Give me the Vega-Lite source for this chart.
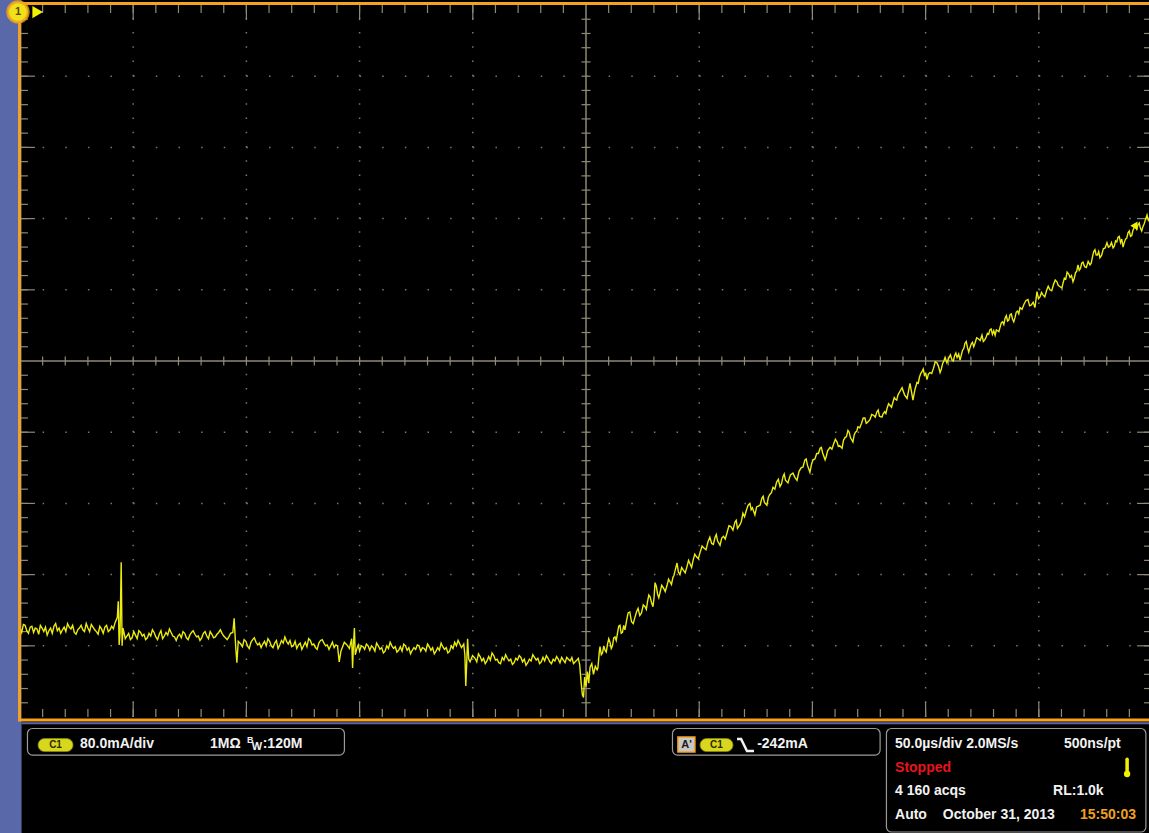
{
  "$schema": "https://vega.github.io/schema/vega-lite/v6.json",
  "width": 1149,
  "height": 833,
  "autosize": {"type": "none"},
  "padding": 0,
  "background": "#000000",
  "config": {"view": {"stroke": null}},
  "data": {"values": [{}]},
  "datasets": {
    "major_t": [{"t": -200}, {"t": -150}, {"t": -100}, {"t": -50}, {"t": 50}, {"t": 100}, {"t": 150}, {"t": 200}],
    "major_i": [{"i": -320}, {"i": -240}, {"i": -160}, {"i": -80}, {"i": 80}, {"i": 160}, {"i": 240}, {"i": 320}],
    "ticks_t": [{"t": -240}, {"t": -230}, {"t": -220}, {"t": -210}, {"t": -200}, {"t": -190}, {"t": -180}, {"t": -170}, {"t": -160}, {"t": -150}, {"t": -140}, {"t": -130}, {"t": -120}, {"t": -110}, {"t": -100}, {"t": -90}, {"t": -80}, {"t": -70}, {"t": -60}, {"t": -50}, {"t": -40}, {"t": -30}, {"t": -20}, {"t": -10}, {"t": 10}, {"t": 20}, {"t": 30}, {"t": 40}, {"t": 50}, {"t": 60}, {"t": 70}, {"t": 80}, {"t": 90}, {"t": 100}, {"t": 110}, {"t": 120}, {"t": 130}, {"t": 140}, {"t": 150}, {"t": 160}, {"t": 170}, {"t": 180}, {"t": 190}, {"t": 200}, {"t": 210}, {"t": 220}, {"t": 230}, {"t": 240}],
    "ticks_i": [{"i": -384}, {"i": -368}, {"i": -352}, {"i": -336}, {"i": -320}, {"i": -304}, {"i": -288}, {"i": -272}, {"i": -256}, {"i": -240}, {"i": -224}, {"i": -208}, {"i": -192}, {"i": -176}, {"i": -160}, {"i": -144}, {"i": -128}, {"i": -112}, {"i": -96}, {"i": -80}, {"i": -64}, {"i": -48}, {"i": -32}, {"i": -16}, {"i": 16}, {"i": 32}, {"i": 48}, {"i": 64}, {"i": 80}, {"i": 96}, {"i": 112}, {"i": 128}, {"i": 144}, {"i": 160}, {"i": 176}, {"i": 192}, {"i": 208}, {"i": 224}, {"i": 240}, {"i": 256}, {"i": 272}, {"i": 288}, {"i": 304}, {"i": 320}, {"i": 336}, {"i": 352}, {"i": 368}, {"i": 384}],
    "edge_symbol": [{"t": 66.7, "i": -424.7}, {"t": 68.5, "i": -424.7}, {"t": 71.1, "i": -438.2}, {"t": 74.2, "i": -438.2}],
    "trace": [
      {"t": -250, "i": -300}, {"t": -248.5, "i": -296}, {"t": -247, "i": -303}, {"t": -245.5, "i": -299}, {"t": -244, "i": -305}, {"t": -242.5, "i": -301}, {"t": -241, "i": -297}, {"t": -239.5, "i": -304}, {"t": -238, "i": -308}, {"t": -236.5, "i": -300}, {"t": -235, "i": -298}, {"t": -233.5, "i": -303}, {"t": -232, "i": -306}, {"t": -230.5, "i": -299}, {"t": -229, "i": -295}, {"t": -227.5, "i": -301}, {"t": -226, "i": -305}, {"t": -224.5, "i": -302}, {"t": -223, "i": -297}, {"t": -221.5, "i": -304}, {"t": -220, "i": -300}, {"t": -218.5, "i": -296}, {"t": -217, "i": -302}, {"t": -215.5, "i": -307}, {"t": -214, "i": -301}, {"t": -212.5, "i": -299}, {"t": -211, "i": -304}, {"t": -209.5, "i": -298}, {"t": -208, "i": -294},
      {"t": -249.25, "i": -305}, {"t": -247.75, "i": -297}, {"t": -246.25, "i": -306}, {"t": -244.75, "i": -298}, {"t": -243.25, "i": -300}, {"t": -241.75, "i": -307}, {"t": -240.25, "i": -300}, {"t": -238.75, "i": -299}, {"t": -237.25, "i": -303}, {"t": -235.75, "i": -306}, {"t": -234.25, "i": -295}, {"t": -232.75, "i": -300}, {"t": -231.25, "i": -302}, {"t": -229.75, "i": -304}, {"t": -228.25, "i": -299}, {"t": -226.75, "i": -297}, {"t": -225.25, "i": -307}, {"t": -223.75, "i": -300}, {"t": -222.25, "i": -302}, {"t": -220.75, "i": -295}, {"t": -219.25, "i": -304}, {"t": -217.75, "i": -299}, {"t": -216.25, "i": -304}, {"t": -214.75, "i": -298}, {"t": -213.25, "i": -306}, {"t": -211.75, "i": -297}, {"t": -210.25, "i": -302}, {"t": -208.75, "i": -301},
      {"t": -207, "i": -288}, {"t": -206.6, "i": -270}, {"t": -206.2, "i": -319}, {"t": -205.8, "i": -305}, {"t": -205.3, "i": -226}, {"t": -204.9, "i": -320}, {"t": -204.5, "i": -300}, {"t": -203.5, "i": -312},
      {"t": -202, "i": -306}, {"t": -200.5, "i": -311}, {"t": -199, "i": -308}, {"t": -197.5, "i": -303}, {"t": -196, "i": -309}, {"t": -194.5, "i": -313}, {"t": -193, "i": -306}, {"t": -191.5, "i": -302}, {"t": -190, "i": -310}, {"t": -188.5, "i": -307}, {"t": -187, "i": -312}, {"t": -185.5, "i": -305}, {"t": -184, "i": -301}, {"t": -182.5, "i": -309}, {"t": -181, "i": -314}, {"t": -179.5, "i": -307}, {"t": -178, "i": -304}, {"t": -176.5, "i": -311}, {"t": -175, "i": -308}, {"t": -173.5, "i": -303}, {"t": -172, "i": -310}, {"t": -170.5, "i": -314}, {"t": -169, "i": -306}, {"t": -167.5, "i": -309}, {"t": -166, "i": -304}, {"t": -164.5, "i": -311}, {"t": -163, "i": -307}, {"t": -161.5, "i": -302}, {"t": -160, "i": -309}, {"t": -158.5, "i": -313}, {"t": -157, "i": -306},
      {"t": -201.25, "i": -313}, {"t": -199.75, "i": -304}, {"t": -198.25, "i": -312}, {"t": -196.75, "i": -305}, {"t": -195.25, "i": -307}, {"t": -193.75, "i": -311}, {"t": -192.25, "i": -309}, {"t": -190.75, "i": -305}, {"t": -189.25, "i": -313}, {"t": -187.75, "i": -303}, {"t": -186.25, "i": -309}, {"t": -184.75, "i": -308}, {"t": -183.25, "i": -305}, {"t": -181.75, "i": -310}, {"t": -180.25, "i": -309}, {"t": -178.75, "i": -311}, {"t": -177.25, "i": -306}, {"t": -175.75, "i": -313}, {"t": -174.25, "i": -305}, {"t": -172.75, "i": -307}, {"t": -171.25, "i": -309}, {"t": -169.75, "i": -311}, {"t": -168.25, "i": -304}, {"t": -166.75, "i": -312}, {"t": -165.25, "i": -307}, {"t": -163.75, "i": -310}, {"t": -162.25, "i": -305}, {"t": -160.75, "i": -306}, {"t": -159.25, "i": -311}, {"t": -157.75, "i": -310},
      {"t": -156, "i": -305}, {"t": -155.4, "i": -289}, {"t": -154.7, "i": -322}, {"t": -154.2, "i": -339}, {"t": -153.6, "i": -315},
      {"t": -152.5, "i": -318}, {"t": -151, "i": -313}, {"t": -149.5, "i": -320}, {"t": -148, "i": -316}, {"t": -146.5, "i": -311}, {"t": -145, "i": -319}, {"t": -143.5, "i": -322}, {"t": -142, "i": -315}, {"t": -140.5, "i": -312}, {"t": -139, "i": -320}, {"t": -137.5, "i": -317}, {"t": -136, "i": -323}, {"t": -134.5, "i": -314}, {"t": -133, "i": -310}, {"t": -131.5, "i": -318}, {"t": -130, "i": -321}, {"t": -128.5, "i": -315}, {"t": -127, "i": -319}, {"t": -125.5, "i": -324}, {"t": -124, "i": -316}, {"t": -122.5, "i": -312}, {"t": -121, "i": -319}, {"t": -119.5, "i": -322}, {"t": -118, "i": -317}, {"t": -116.5, "i": -313}, {"t": -115, "i": -320}, {"t": -113.5, "i": -324}, {"t": -112, "i": -316}, {"t": -110.5, "i": -319}, {"t": -109, "i": -338}, {"t": -107.5, "i": -321}, {"t": -106, "i": -318}, {"t": -104.5, "i": -323},
      {"t": -151.75, "i": -321}, {"t": -150.25, "i": -315}, {"t": -148.75, "i": -323}, {"t": -147.25, "i": -313}, {"t": -145.75, "i": -316}, {"t": -144.25, "i": -317}, {"t": -142.75, "i": -318}, {"t": -141.25, "i": -320}, {"t": -139.75, "i": -315}, {"t": -138.25, "i": -322}, {"t": -136.75, "i": -314}, {"t": -135.25, "i": -319}, {"t": -133.75, "i": -317}, {"t": -132.25, "i": -315}, {"t": -130.75, "i": -314}, {"t": -129.25, "i": -320}, {"t": -127.75, "i": -323}, {"t": -126.25, "i": -317}, {"t": -124.75, "i": -320}, {"t": -123.25, "i": -321}, {"t": -121.75, "i": -314}, {"t": -120.25, "i": -318}, {"t": -118.75, "i": -324}, {"t": -117.25, "i": -314}, {"t": -115.75, "i": -317}, {"t": -114.25, "i": -319}, {"t": -112.75, "i": -320}, {"t": -111.25, "i": -322}, {"t": -109.75, "i": -320}, {"t": -108.25, "i": -326}, {"t": -106.75, "i": -316}, {"t": -105.25, "i": -320},
      {"t": -103.5, "i": -312}, {"t": -103.1, "i": -345}, {"t": -102.7, "i": -318}, {"t": -102.3, "i": -300}, {"t": -101.9, "i": -330}, {"t": -101.2, "i": -323}, {"t": -100.6, "i": -319},
      {"t": -100, "i": -326}, {"t": -98.5, "i": -321}, {"t": -97, "i": -318}, {"t": -95.5, "i": -325}, {"t": -94, "i": -322}, {"t": -92.5, "i": -317}, {"t": -91, "i": -324}, {"t": -89.5, "i": -328}, {"t": -88, "i": -320}, {"t": -86.5, "i": -316}, {"t": -85, "i": -323}, {"t": -83.5, "i": -327}, {"t": -82, "i": -321}, {"t": -80.5, "i": -318}, {"t": -79, "i": -325}, {"t": -77.5, "i": -329}, {"t": -76, "i": -322}, {"t": -74.5, "i": -319}, {"t": -73, "i": -326}, {"t": -71.5, "i": -323}, {"t": -70, "i": -318}, {"t": -68.5, "i": -325}, {"t": -67, "i": -329}, {"t": -65.5, "i": -322}, {"t": -64, "i": -317}, {"t": -62.5, "i": -324}, {"t": -61, "i": -328}, {"t": -59.5, "i": -320}, {"t": -58, "i": -316}, {"t": -56.5, "i": -314}, {"t": -55, "i": -322},
      {"t": -99.25, "i": -320}, {"t": -97.75, "i": -324}, {"t": -96.25, "i": -320}, {"t": -94.75, "i": -320}, {"t": -93.25, "i": -326}, {"t": -91.75, "i": -320}, {"t": -90.25, "i": -322}, {"t": -88.75, "i": -326}, {"t": -87.25, "i": -323}, {"t": -85.75, "i": -320}, {"t": -84.25, "i": -321}, {"t": -82.75, "i": -325}, {"t": -81.25, "i": -326}, {"t": -79.75, "i": -320}, {"t": -78.25, "i": -322}, {"t": -76.75, "i": -325}, {"t": -75.25, "i": -324}, {"t": -73.75, "i": -320}, {"t": -72.25, "i": -322}, {"t": -70.75, "i": -326}, {"t": -69.25, "i": -321}, {"t": -67.75, "i": -322}, {"t": -66.25, "i": -326}, {"t": -64.75, "i": -325}, {"t": -63.25, "i": -321}, {"t": -61.75, "i": -322}, {"t": -60.25, "i": -326}, {"t": -58.75, "i": -323}, {"t": -57.25, "i": -320}, {"t": -55.75, "i": -318},
      {"t": -54, "i": -318}, {"t": -53.5, "i": -330}, {"t": -53.1, "i": -365}, {"t": -52.7, "i": -340}, {"t": -52.3, "i": -312}, {"t": -51.8, "i": -335}, {"t": -51.2, "i": -338}, {"t": -50.1, "i": -331},
      {"t": -49, "i": -334}, {"t": -47.5, "i": -329}, {"t": -46, "i": -337}, {"t": -44.5, "i": -340}, {"t": -43, "i": -332}, {"t": -41.5, "i": -328}, {"t": -40, "i": -336}, {"t": -38.5, "i": -339}, {"t": -37, "i": -333}, {"t": -35.5, "i": -330}, {"t": -34, "i": -337}, {"t": -32.5, "i": -341}, {"t": -31, "i": -334}, {"t": -29.5, "i": -331}, {"t": -28, "i": -338}, {"t": -26.5, "i": -342}, {"t": -25, "i": -335}, {"t": -23.5, "i": -330}, {"t": -22, "i": -336}, {"t": -20.5, "i": -340}, {"t": -19, "i": -333}, {"t": -17.5, "i": -331}, {"t": -16, "i": -338}, {"t": -14.5, "i": -335}, {"t": -13, "i": -332}, {"t": -11.5, "i": -339}, {"t": -10, "i": -336}, {"t": -8.5, "i": -333}, {"t": -7, "i": -337}, {"t": -5.5, "i": -340}, {"t": -4, "i": -336},
      {"t": -48.25, "i": -338}, {"t": -46.75, "i": -332}, {"t": -45.25, "i": -334}, {"t": -43.75, "i": -337}, {"t": -42.25, "i": -336}, {"t": -40.75, "i": -331}, {"t": -39.25, "i": -335}, {"t": -37.75, "i": -340}, {"t": -36.25, "i": -336}, {"t": -34.75, "i": -334}, {"t": -33.25, "i": -335}, {"t": -31.75, "i": -339}, {"t": -30.25, "i": -336}, {"t": -28.75, "i": -333}, {"t": -27.25, "i": -335}, {"t": -25.75, "i": -339}, {"t": -24.25, "i": -337}, {"t": -22.75, "i": -333}, {"t": -21.25, "i": -334}, {"t": -19.75, "i": -338}, {"t": -18.25, "i": -337}, {"t": -16.75, "i": -334}, {"t": -15.25, "i": -340}, {"t": -13.75, "i": -337}, {"t": -12.25, "i": -335}, {"t": -10.75, "i": -333}, {"t": -9.25, "i": -339}, {"t": -7.75, "i": -335}, {"t": -6.25, "i": -333}, {"t": -4.75, "i": -338}, {"t": -3.4, "i": -334},
      {"t": -2.8, "i": -341}, {"t": -2.2, "i": -360}, {"t": -1.6, "i": -375}, {"t": -1.1, "i": -378}, {"t": -0.6, "i": -355}, {"t": 0, "i": -366}, {"t": 0.6, "i": -349}, {"t": 1.2, "i": -362},
      {"t": 1.8, "i": -344}, {"t": 3.3, "i": -352}, {"t": 4.9, "i": -347}, {"t": 5.6, "i": -335}, {"t": 6.2, "i": -321}, {"t": 7.3, "i": -328}, {"t": 8.4, "i": -325}, {"t": 9.5, "i": -318}, {"t": 10.6, "i": -316}, {"t": 11.7, "i": -320}, {"t": 12.8, "i": -310}, {"t": 13.9, "i": -306}, {"t": 15.0, "i": -297}, {"t": 16.1, "i": -305}, {"t": 17.2, "i": -302}, {"t": 17.9, "i": -292}, {"t": 18.6, "i": -283}, {"t": 20.1, "i": -293}, {"t": 21.6, "i": -288}, {"t": 22.3, "i": -282}, {"t": 23.0, "i": -278}, {"t": 24.5, "i": -283}, {"t": 26.1, "i": -276}, {"t": 27.2, "i": -270}, {"t": 28.3, "i": -265}, {"t": 29.0, "i": -272}, {"t": 29.6, "i": -276}, {"t": 30.5, "i": -249}, {"t": 31.6, "i": -262}, {"t": 32.7, "i": -260}, {"t": 34.2, "i": -255}, {"t": 35.8, "i": -252}, {"t": 37.1, "i": -248}, {"t": 38.4, "i": -243}, {"t": 39.3, "i": -236}, {"t": 40.2, "i": -227}, {"t": 40.8, "i": -237}, {"t": 41.5, "i": -240}, {"t": 43.0, "i": -235}, {"t": 44.6, "i": -231}, {"t": 46.0, "i": -228}, {"t": 47.3, "i": -224}, {"t": 48.8, "i": -220}, {"t": 50.4, "i": -215}, {"t": 52.1, "i": -210}, {"t": 53.9, "i": -203}, {"t": 55.5, "i": -205}, {"t": 57.0, "i": -198}, {"t": 58.1, "i": -202}, {"t": 59.2, "i": -207}, {"t": 60.7, "i": -197}, {"t": 62.3, "i": -193}, {"t": 64.0, "i": -186}, {"t": 65.8, "i": -181}, {"t": 66.9, "i": -188}, {"t": 68.0, "i": -184}, {"t": 69.3, "i": -171}, {"t": 70.8, "i": -168}, {"t": 72.4, "i": -160}, {"t": 73.5, "i": -165}, {"t": 74.6, "i": -173}, {"t": 76.1, "i": -163}, {"t": 77.7, "i": -154}, {"t": 78.8, "i": -159}, {"t": 79.9, "i": -162}, {"t": 81.2, "i": -150}, {"t": 82.6, "i": -142}, {"t": 84.2, "i": -136}, {"t": 85.7, "i": -141}, {"t": 87.0, "i": -130}, {"t": 88.1, "i": -134}, {"t": 89.2, "i": -137}, {"t": 90.3, "i": -128}, {"t": 91.4, "i": -126}, {"t": 92.3, "i": -131}, {"t": 93.2, "i": -134}, {"t": 95.0, "i": -120}, {"t": 96.7, "i": -111}, {"t": 97.8, "i": -117}, {"t": 98.9, "i": -125}, {"t": 99.6, "i": -116}, {"t": 100.3, "i": -111}, {"t": 101.9, "i": -104}, {"t": 103.4, "i": -98}, {"t": 104.5, "i": -103}, {"t": 105.6, "i": -111}, {"t": 106.7, "i": -101}, {"t": 107.8, "i": -97}, {"t": 109.4, "i": -93}, {"t": 110.9, "i": -91}, {"t": 112.0, "i": -95}, {"t": 113.1, "i": -98}, {"t": 114.4, "i": -86}, {"t": 115.7, "i": -78}, {"t": 116.8, "i": -86}, {"t": 117.9, "i": -91}, {"t": 119.0, "i": -80}, {"t": 120.1, "i": -74}, {"t": 121.7, "i": -70}, {"t": 123.2, "i": -64}, {"t": 124.3, "i": -69}, {"t": 125.4, "i": -66}, {"t": 127.0, "i": -61}, {"t": 128.5, "i": -57}, {"t": 129.6, "i": -62}, {"t": 130.7, "i": -63}, {"t": 131.9, "i": -57}, {"t": 133.0, "i": -53}, {"t": 134.3, "i": -50}, {"t": 135.6, "i": -46}, {"t": 136.7, "i": -43}, {"t": 137.8, "i": -38}, {"t": 138.7, "i": -34}, {"t": 139.6, "i": -30}, {"t": 140.7, "i": -38}, {"t": 141.8, "i": -42}, {"t": 142.5, "i": -33}, {"t": 143.1, "i": -25}, {"t": 143.8, "i": -35}, {"t": 144.4, "i": -44}, {"t": 145.3, "i": -32}, {"t": 146.2, "i": -24}, {"t": 147.3, "i": -18}, {"t": 148.4, "i": -12}, {"t": 149.5, "i": -16}, {"t": 150.6, "i": -21}, {"t": 151.2, "i": -15}, {"t": 151.9, "i": -13}, {"t": 153.5, "i": -8}, {"t": 155.0, "i": -2}, {"t": 155.7, "i": -6}, {"t": 156.4, "i": -13}, {"t": 157.5, "i": -3}, {"t": 158.6, "i": 4}, {"t": 160.2, "i": 3}, {"t": 161.7, "i": 1}, {"t": 162.8, "i": 6}, {"t": 163.9, "i": 4}, {"t": 164.6, "i": 8}, {"t": 165.2, "i": 1}, {"t": 166.3, "i": 12}, {"t": 167.4, "i": 20}, {"t": 168.5, "i": 15}, {"t": 169.6, "i": 15}, {"t": 170.7, "i": 21}, {"t": 171.8, "i": 20}, {"t": 173.3, "i": 25}, {"t": 174.9, "i": 29}, {"t": 175.5, "i": 22}, {"t": 176.2, "i": 24}, {"t": 177.3, "i": 31}, {"t": 178.4, "i": 35}, {"t": 179.5, "i": 30}, {"t": 180.7, "i": 29}, {"t": 181.8, "i": 34}, {"t": 182.9, "i": 38}, {"t": 184.0, "i": 44}, {"t": 185.1, "i": 48}, {"t": 186.2, "i": 45}, {"t": 187.3, "i": 52}, {"t": 188.4, "i": 47}, {"t": 189.5, "i": 49}, {"t": 190.6, "i": 56}, {"t": 191.7, "i": 60}, {"t": 193.5, "i": 64}, {"t": 195.2, "i": 69}, {"t": 196.7, "i": 63}, {"t": 198.3, "i": 60}, {"t": 199.2, "i": 78}, {"t": 200.5, "i": 72}, {"t": 201.9, "i": 74}, {"t": 203.4, "i": 79}, {"t": 204.9, "i": 80}, {"t": 206.5, "i": 86}, {"t": 208.0, "i": 89}, {"t": 209.1, "i": 84}, {"t": 210.2, "i": 82}, {"t": 211.3, "i": 93}, {"t": 212.5, "i": 100}, {"t": 213.8, "i": 94}, {"t": 215.1, "i": 89}, {"t": 216.2, "i": 99}, {"t": 217.3, "i": 108}, {"t": 218.4, "i": 104}, {"t": 219.5, "i": 111}, {"t": 221.0, "i": 105}, {"t": 222.6, "i": 108}, {"t": 223.7, "i": 117}, {"t": 224.8, "i": 125}, {"t": 225.9, "i": 119}, {"t": 227.0, "i": 116}, {"t": 228.5, "i": 126}, {"t": 230.1, "i": 133}, {"t": 231.4, "i": 129}, {"t": 232.8, "i": 127}, {"t": 233.9, "i": 135}, {"t": 235.0, "i": 139}, {"t": 236.1, "i": 133}, {"t": 237.2, "i": 128}, {"t": 238.3, "i": 137}, {"t": 239.4, "i": 144}, {"t": 240.5, "i": 140}, {"t": 241.6, "i": 147}, {"t": 242.7, "i": 151}, {"t": 243.8, "i": 153}, {"t": 244.9, "i": 149}, {"t": 246.0, "i": 151}, {"t": 247.0, "i": 158}, {"t": 247.8, "i": 164}, {"t": 249.0, "i": 160}, {"t": 250.0, "i": 166},
      {"t": 2.55, "i": -340}, {"t": 4.1, "i": -343}, {"t": 5.25, "i": -345}, {"t": 5.9, "i": -326}, {"t": 6.75, "i": -330}, {"t": 7.85, "i": -320}, {"t": 8.95, "i": -327}, {"t": 10.05, "i": -312}, {"t": 11.15, "i": -323}, {"t": 12.25, "i": -311}, {"t": 13.35, "i": -314}, {"t": 14.45, "i": -298}, {"t": 15.55, "i": -306}, {"t": 16.65, "i": -297}, {"t": 19.35, "i": -282}, {"t": 20.85, "i": -295}, {"t": 23.75, "i": -286}, {"t": 25.3, "i": -274}, {"t": 26.65, "i": -279}, {"t": 27.75, "i": -263}, {"t": 30.05, "i": -266}, {"t": 31.05, "i": -253}, {"t": 32.15, "i": -266}, {"t": 33.45, "i": -252}, {"t": 35.0, "i": -259}, {"t": 36.45, "i": -245}, {"t": 37.75, "i": -251}, {"t": 38.85, "i": -241}, {"t": 42.25, "i": -232}, {"t": 43.8, "i": -238}, {"t": 45.3, "i": -224}, {"t": 46.65, "i": -232}, {"t": 48.05, "i": -217}, {"t": 49.6, "i": -222}, {"t": 51.25, "i": -208}, {"t": 53.0, "i": -212}, {"t": 54.7, "i": -198}, {"t": 56.25, "i": -206}, {"t": 57.55, "i": -195}, {"t": 59.95, "i": -199}, {"t": 61.5, "i": -200}, {"t": 63.15, "i": -185}, {"t": 64.9, "i": -190}, {"t": 66.35, "i": -179}, {"t": 68.65, "i": -180}, {"t": 70.05, "i": -175}, {"t": 71.6, "i": -162}, {"t": 72.95, "i": -167}, {"t": 75.35, "i": -164}, {"t": 76.9, "i": -162}, {"t": 78.25, "i": -152}, {"t": 80.55, "i": -153}, {"t": 81.9, "i": -148}, {"t": 83.4, "i": -144}, {"t": 84.95, "i": -133}, {"t": 86.35, "i": -138}, {"t": 87.55, "i": -127}, {"t": 89.75, "i": -132}, {"t": 94.1, "i": -124}, {"t": 95.85, "i": -119}, {"t": 97.25, "i": -110}, {"t": 101.1, "i": -110}, {"t": 102.65, "i": -104}, {"t": 103.95, "i": -97}, {"t": 106.15, "i": -107}, {"t": 108.6, "i": -99}, {"t": 110.15, "i": -88}, {"t": 111.45, "i": -96}, {"t": 113.75, "i": -89}, {"t": 115.05, "i": -85}, {"t": 116.25, "i": -80}, {"t": 118.45, "i": -83}, {"t": 119.55, "i": -79}, {"t": 120.9, "i": -75}, {"t": 122.45, "i": -64}, {"t": 123.75, "i": -70}, {"t": 126.2, "i": -60}, {"t": 127.75, "i": -63}, {"t": 129.05, "i": -55}, {"t": 131.3, "i": -59}, {"t": 132.45, "i": -59}, {"t": 133.65, "i": -48}, {"t": 134.95, "i": -52}, {"t": 136.15, "i": -41}, {"t": 137.25, "i": -44}, {"t": 146.75, "i": -25}, {"t": 147.85, "i": -14}, {"t": 148.95, "i": -9}, {"t": 150.05, "i": -14}, {"t": 152.7, "i": -14}, {"t": 154.25, "i": -1}, {"t": 156.95, "i": -9}, {"t": 158.05, "i": 0}, {"t": 159.4, "i": -2}, {"t": 160.95, "i": 7}, {"t": 162.25, "i": 0}, {"t": 163.35, "i": 9}, {"t": 166.85, "i": 14}, {"t": 167.95, "i": 22}, {"t": 169.05, "i": 10}, {"t": 170.15, "i": 19}, {"t": 171.25, "i": 16}, {"t": 172.55, "i": 26}, {"t": 174.1, "i": 23}, {"t": 176.75, "i": 27}, {"t": 177.85, "i": 30}, {"t": 178.95, "i": 36}, {"t": 180.1, "i": 34}, {"t": 181.25, "i": 35}, {"t": 182.35, "i": 33}, {"t": 183.45, "i": 43}, {"t": 184.55, "i": 41}, {"t": 185.65, "i": 51}, {"t": 186.75, "i": 46}, {"t": 187.85, "i": 53}, {"t": 188.95, "i": 44}, {"t": 190.05, "i": 55}, {"t": 191.15, "i": 53}, {"t": 192.6, "i": 58}, {"t": 194.35, "i": 68}, {"t": 195.95, "i": 62}, {"t": 197.5, "i": 66}, {"t": 199.85, "i": 70}, {"t": 201.2, "i": 77}, {"t": 202.65, "i": 72}, {"t": 204.15, "i": 84}, {"t": 205.7, "i": 79}, {"t": 207.25, "i": 91}, {"t": 208.55, "i": 85}, {"t": 210.75, "i": 88}, {"t": 211.9, "i": 92}, {"t": 213.15, "i": 98}, {"t": 214.45, "i": 96}, {"t": 215.65, "i": 93}, {"t": 216.75, "i": 101}, {"t": 217.85, "i": 102}, {"t": 218.95, "i": 110}, {"t": 220.25, "i": 106}, {"t": 221.8, "i": 112}, {"t": 223.15, "i": 110}, {"t": 224.25, "i": 123}, {"t": 225.35, "i": 119}, {"t": 226.45, "i": 123}, {"t": 227.75, "i": 119}, {"t": 229.3, "i": 127}, {"t": 230.75, "i": 128}, {"t": 232.1, "i": 133}, {"t": 233.35, "i": 129}, {"t": 234.45, "i": 134}, {"t": 235.55, "i": 140}, {"t": 236.65, "i": 137}, {"t": 237.75, "i": 133}, {"t": 238.85, "i": 138}, {"t": 239.95, "i": 146}, {"t": 241.05, "i": 141}, {"t": 242.15, "i": 150}, {"t": 243.25, "i": 148}, {"t": 244.35, "i": 155}, {"t": 245.45, "i": 146}, {"t": 246.5, "i": 154}, {"t": 248.4, "i": 158}, {"t": 249.5, "i": 167}
    ]
  },
  "encoding": {
    "x": {"type": "quantitative", "scale": {"domain": [-258.83, 248.67], "nice": false, "zero": false}, "axis": null},
    "y": {"type": "quantitative", "scale": {"domain": [-530.3, 405.6], "nice": false, "zero": false}, "axis": null}
  },
  "layer": [
    {"mark": {"type": "rect", "color": "#5868a8"}, "encoding": {"x": {"datum": -258.83, "type": "quantitative"}, "x2": {"datum": -249.3}, "y": {"datum": -530.3, "type": "quantitative"}, "y2": {"datum": 405.6}}},
    {"data": {"name": "major_i"}, "mark": {"type": "rule", "color": "#7a7866", "strokeWidth": 1.5, "strokeDash": [1.5, 21.14]}, "encoding": {"y": {"field": "i", "type": "quantitative"}, "x": {"datum": -250, "type": "quantitative"}, "x2": {"datum": 250}}},
    {"data": {"name": "major_t"}, "mark": {"type": "rule", "color": "#7a7866", "strokeWidth": 1.5, "strokeDash": [1.5, 12.74]}, "encoding": {"x": {"field": "t", "type": "quantitative"}, "y": {"datum": -400, "type": "quantitative"}, "y2": {"datum": 400}}},
    {"mark": {"type": "rule", "color": "#8e8a76", "strokeWidth": 1.5}, "encoding": {"y": {"datum": 0, "type": "quantitative"}, "x": {"datum": -250, "type": "quantitative"}, "x2": {"datum": 250}}},
    {"mark": {"type": "rule", "color": "#8e8a76", "strokeWidth": 1.5}, "encoding": {"x": {"datum": 0, "type": "quantitative"}, "y": {"datum": -400, "type": "quantitative"}, "y2": {"datum": 400}}},
    {"data": {"name": "ticks_t"}, "mark": {"type": "rule", "color": "#8e8a76", "strokeWidth": 1.2}, "encoding": {"x": {"field": "t", "type": "quantitative"}, "y": {"datum": -5, "type": "quantitative"}, "y2": {"datum": 5}}},
    {"data": {"name": "ticks_i"}, "mark": {"type": "rule", "color": "#8e8a76", "strokeWidth": 1.2}, "encoding": {"y": {"field": "i", "type": "quantitative"}, "x": {"datum": -2, "type": "quantitative"}, "x2": {"datum": 2}}},
    {"data": {"name": "ticks_t"}, "mark": {"type": "rule", "color": "#8e8a76", "strokeWidth": 1.2}, "encoding": {"x": {"field": "t", "type": "quantitative"}, "y": {"datum": 400, "type": "quantitative"}, "y2": {"datum": 391}}},
    {"data": {"name": "ticks_t"}, "mark": {"type": "rule", "color": "#8e8a76", "strokeWidth": 1.2}, "encoding": {"x": {"field": "t", "type": "quantitative"}, "y": {"datum": -400, "type": "quantitative"}, "y2": {"datum": -391}}},
    {"data": {"name": "major_t"}, "mark": {"type": "rule", "color": "#8e8a76", "strokeWidth": 1.2}, "encoding": {"x": {"field": "t", "type": "quantitative"}, "y": {"datum": 400, "type": "quantitative"}, "y2": {"datum": 383}}},
    {"data": {"name": "major_t"}, "mark": {"type": "rule", "color": "#8e8a76", "strokeWidth": 1.2}, "encoding": {"x": {"field": "t", "type": "quantitative"}, "y": {"datum": -400, "type": "quantitative"}, "y2": {"datum": -383}}},
    {"data": {"name": "ticks_i"}, "mark": {"type": "rule", "color": "#8e8a76", "strokeWidth": 1.2}, "encoding": {"y": {"field": "i", "type": "quantitative"}, "x": {"datum": -250, "type": "quantitative"}, "x2": {"datum": -246.5}}},
    {"data": {"name": "ticks_i"}, "mark": {"type": "rule", "color": "#8e8a76", "strokeWidth": 1.2}, "encoding": {"y": {"field": "i", "type": "quantitative"}, "x": {"datum": 250, "type": "quantitative"}, "x2": {"datum": 246.5}}},
    {"data": {"name": "major_i"}, "mark": {"type": "rule", "color": "#8e8a76", "strokeWidth": 1.2}, "encoding": {"y": {"field": "i", "type": "quantitative"}, "x": {"datum": -250, "type": "quantitative"}, "x2": {"datum": -243.4}}},
    {"data": {"name": "major_i"}, "mark": {"type": "rule", "color": "#8e8a76", "strokeWidth": 1.2}, "encoding": {"y": {"field": "i", "type": "quantitative"}, "x": {"datum": 250, "type": "quantitative"}, "x2": {"datum": 243.4}}},
    {"data": {"name": "trace"}, "mark": {"type": "line", "color": "#ecec10", "strokeWidth": 1.4, "interpolate": "linear"}, "encoding": {"x": {"field": "t", "type": "quantitative"}, "y": {"field": "i", "type": "quantitative"}}},
    {"mark": {"type": "point", "shape": "triangle-left", "filled": true, "color": "#f2f200", "size": 70, "opacity": 1}, "encoding": {"x": {"datum": 242, "type": "quantitative"}, "y": {"datum": 152, "type": "quantitative"}}},
    {"mark": {"type": "rect", "fill": null, "filled": false, "stroke": "#f5a31c", "strokeWidth": 3}, "encoding": {"x": {"datum": -250.2, "type": "quantitative"}, "x2": {"datum": 251}, "y": {"datum": -403.4, "type": "quantitative"}, "y2": {"datum": 401.7}}},
    {"mark": {"type": "rule", "color": "#5868a8", "strokeWidth": 2}, "encoding": {"y": {"datum": -407, "type": "quantitative"}, "x": {"datum": -249.3, "type": "quantitative"}, "x2": {"datum": 248.67}}},
    {"mark": {"type": "point", "shape": "circle", "filled": true, "color": "#f0e21a", "stroke": "#f5a31c", "strokeWidth": 3, "strokeOpacity": 0.8, "size": 420, "opacity": 1}, "encoding": {"x": {"datum": -250.9, "type": "quantitative"}, "y": {"datum": 392.1, "type": "quantitative"}}},
    {"mark": {"type": "text", "text": "1", "color": "#5c4a00", "font": "Liberation Sans", "fontWeight": "bold", "fontSize": 11, "align": "center", "baseline": "middle"}, "encoding": {"x": {"datum": -250.9, "type": "quantitative"}, "y": {"datum": 392.1, "type": "quantitative"}}},
    {"mark": {"type": "point", "shape": "triangle-right", "filled": true, "color": "#f2f200", "size": 150, "opacity": 1}, "encoding": {"x": {"datum": -242.2, "type": "quantitative"}, "y": {"datum": 392.1, "type": "quantitative"}}},
    {"mark": {"type": "rect", "fill": "#000000", "stroke": "#9a9a9a", "strokeWidth": 1.2, "cornerRadius": 5}, "encoding": {"x": {"datum": -246.7, "type": "quantitative"}, "x2": {"datum": -106.7}, "y": {"datum": -412.9, "type": "quantitative"}, "y2": {"datum": -442.7}}},
    {"mark": {"type": "rect", "fill": "#000000", "stroke": "#9a9a9a", "strokeWidth": 1.2, "cornerRadius": 5}, "encoding": {"x": {"datum": 38.2, "type": "quantitative"}, "x2": {"datum": 129.9}, "y": {"datum": -412.9, "type": "quantitative"}, "y2": {"datum": -442.7}}},
    {"mark": {"type": "rect", "fill": "#000000", "stroke": "#9a9a9a", "strokeWidth": 1.2, "cornerRadius": 5}, "encoding": {"x": {"datum": 132.7, "type": "quantitative"}, "x2": {"datum": 247.3}, "y": {"datum": -412.9, "type": "quantitative"}, "y2": {"datum": -529.2}}},
    {"mark": {"type": "rect", "fill": "#d9d61e", "stroke": "#8a8a10", "strokeWidth": 0.8, "cornerRadius": 6.5}, "encoding": {"x": {"datum": -242.0, "type": "quantitative"}, "x2": {"datum": -226.6}, "y": {"datum": -424.2, "type": "quantitative"}, "y2": {"datum": -438.8}}},
    {"mark": {"type": "rect", "fill": "#d9d61e", "stroke": "#8a8a10", "strokeWidth": 0.8, "cornerRadius": 6.5}, "encoding": {"x": {"datum": 50.4, "type": "quantitative"}, "x2": {"datum": 64.9}, "y": {"datum": -424.2, "type": "quantitative"}, "y2": {"datum": -438.8}}},
    {"mark": {"type": "rect", "fill": "#c8c8c8", "stroke": "#f5a31c", "strokeWidth": 1.5}, "encoding": {"x": {"datum": 40.6, "type": "quantitative"}, "x2": {"datum": 48.1}, "y": {"datum": -422.5, "type": "quantitative"}, "y2": {"datum": -439.3}}},
    {"data": {"name": "edge_symbol"}, "mark": {"type": "line", "color": "#f2f2f2", "strokeWidth": 2.5}, "encoding": {"x": {"field": "t", "type": "quantitative"}, "y": {"field": "i", "type": "quantitative"}}},
    {"mark": {"type": "text", "text": "C1", "color": "#2a2a00", "font": "Liberation Sans", "fontWeight": "bold", "fontSize": 10, "align": "center", "baseline": "middle"}, "encoding": {"x": {"datum": -234.3, "type": "quantitative"}, "y": {"datum": -431.8, "type": "quantitative"}}},
    {"mark": {"type": "text", "text": "C1", "color": "#2a2a00", "font": "Liberation Sans", "fontWeight": "bold", "fontSize": 10, "align": "center", "baseline": "middle"}, "encoding": {"x": {"datum": 57.6, "type": "quantitative"}, "y": {"datum": -431.8, "type": "quantitative"}}},
    {"mark": {"type": "text", "text": "A'", "color": "#1a1a1a", "font": "Liberation Sans", "fontWeight": "bold", "fontSize": 11, "align": "center", "baseline": "middle"}, "encoding": {"x": {"datum": 44.4, "type": "quantitative"}, "y": {"datum": -431.0, "type": "quantitative"}}},
    {"mark": {"type": "text", "text": "80.0mA/div", "color": "#f2f2f2", "font": "Liberation Sans", "fontWeight": "bold", "fontSize": 14, "align": "left", "baseline": "middle"}, "encoding": {"x": {"datum": -223.5, "type": "quantitative"}, "y": {"datum": -430.7, "type": "quantitative"}}},
    {"mark": {"type": "text", "text": "1MΩ", "color": "#f2f2f2", "font": "Liberation Sans", "fontWeight": "bold", "fontSize": 14, "align": "left", "baseline": "middle"}, "encoding": {"x": {"datum": -166.1, "type": "quantitative"}, "y": {"datum": -430.7, "type": "quantitative"}}},
    {"mark": {"type": "text", "text": "B", "color": "#f2f2f2", "font": "Liberation Sans", "fontWeight": "bold", "fontSize": 9, "align": "left", "baseline": "middle"}, "encoding": {"x": {"datum": -149.7, "type": "quantitative"}, "y": {"datum": -426.0, "type": "quantitative"}}},
    {"mark": {"type": "text", "text": "W", "color": "#f2f2f2", "font": "Liberation Sans", "fontWeight": "bold", "fontSize": 11, "align": "left", "baseline": "middle"}, "encoding": {"x": {"datum": -147.6, "type": "quantitative"}, "y": {"datum": -434.0, "type": "quantitative"}}},
    {"mark": {"type": "text", "text": ":120M", "color": "#f2f2f2", "font": "Liberation Sans", "fontWeight": "bold", "fontSize": 14, "align": "left", "baseline": "middle"}, "encoding": {"x": {"datum": -142.8, "type": "quantitative"}, "y": {"datum": -430.7, "type": "quantitative"}}},
    {"mark": {"type": "text", "text": "-242mA", "color": "#f2f2f2", "font": "Liberation Sans", "fontWeight": "bold", "fontSize": 14, "align": "left", "baseline": "middle"}, "encoding": {"x": {"datum": 75.6, "type": "quantitative"}, "y": {"datum": -430.7, "type": "quantitative"}}},
    {"mark": {"type": "text", "text": "50.0µs/div 2.0MS/s", "color": "#f2f2f2", "font": "Liberation Sans", "fontWeight": "bold", "fontSize": 14, "align": "left", "baseline": "middle"}, "encoding": {"x": {"datum": 136.5, "type": "quantitative"}, "y": {"datum": -430.7, "type": "quantitative"}}},
    {"mark": {"type": "text", "text": "500ns/pt", "color": "#f2f2f2", "font": "Liberation Sans", "fontWeight": "bold", "fontSize": 14, "align": "left", "baseline": "middle"}, "encoding": {"x": {"datum": 211.1, "type": "quantitative"}, "y": {"datum": -430.7, "type": "quantitative"}}},
    {"mark": {"type": "text", "text": "Stopped", "color": "#e8141a", "font": "Liberation Sans", "fontWeight": "bold", "fontSize": 14, "align": "left", "baseline": "middle"}, "encoding": {"x": {"datum": 136.5, "type": "quantitative"}, "y": {"datum": -457.0, "type": "quantitative"}}},
    {"mark": {"type": "rule", "color": "#f2f200", "strokeWidth": 3.5, "strokeCap": "round"}, "encoding": {"x": {"datum": 239.0, "type": "quantitative"}, "y": {"datum": -447.5, "type": "quantitative"}, "y2": {"datum": -461.5}}},
    {"mark": {"type": "point", "shape": "circle", "filled": true, "color": "#f2f200", "size": 40, "opacity": 1}, "encoding": {"x": {"datum": 239.0, "type": "quantitative"}, "y": {"datum": -464.0, "type": "quantitative"}}},
    {"mark": {"type": "text", "text": "4 160 acqs", "color": "#f2f2f2", "font": "Liberation Sans", "fontWeight": "bold", "fontSize": 14, "align": "left", "baseline": "middle"}, "encoding": {"x": {"datum": 136.5, "type": "quantitative"}, "y": {"datum": -483.1, "type": "quantitative"}}},
    {"mark": {"type": "text", "text": "RL:1.0k", "color": "#f2f2f2", "font": "Liberation Sans", "fontWeight": "bold", "fontSize": 14, "align": "left", "baseline": "middle"}, "encoding": {"x": {"datum": 206.3, "type": "quantitative"}, "y": {"datum": -483.1, "type": "quantitative"}}},
    {"mark": {"type": "text", "text": "Auto", "color": "#f2f2f2", "font": "Liberation Sans", "fontWeight": "bold", "fontSize": 14, "align": "left", "baseline": "middle"}, "encoding": {"x": {"datum": 136.5, "type": "quantitative"}, "y": {"datum": -510.1, "type": "quantitative"}}},
    {"mark": {"type": "text", "text": "October 31, 2013", "color": "#f2f2f2", "font": "Liberation Sans", "fontWeight": "bold", "fontSize": 14, "align": "left", "baseline": "middle"}, "encoding": {"x": {"datum": 157.6, "type": "quantitative"}, "y": {"datum": -510.1, "type": "quantitative"}}},
    {"mark": {"type": "text", "text": "15:50:03", "color": "#f0a020", "font": "Liberation Sans", "fontWeight": "bold", "fontSize": 14, "align": "left", "baseline": "middle"}, "encoding": {"x": {"datum": 218.2, "type": "quantitative"}, "y": {"datum": -510.1, "type": "quantitative"}}}
  ]
}
